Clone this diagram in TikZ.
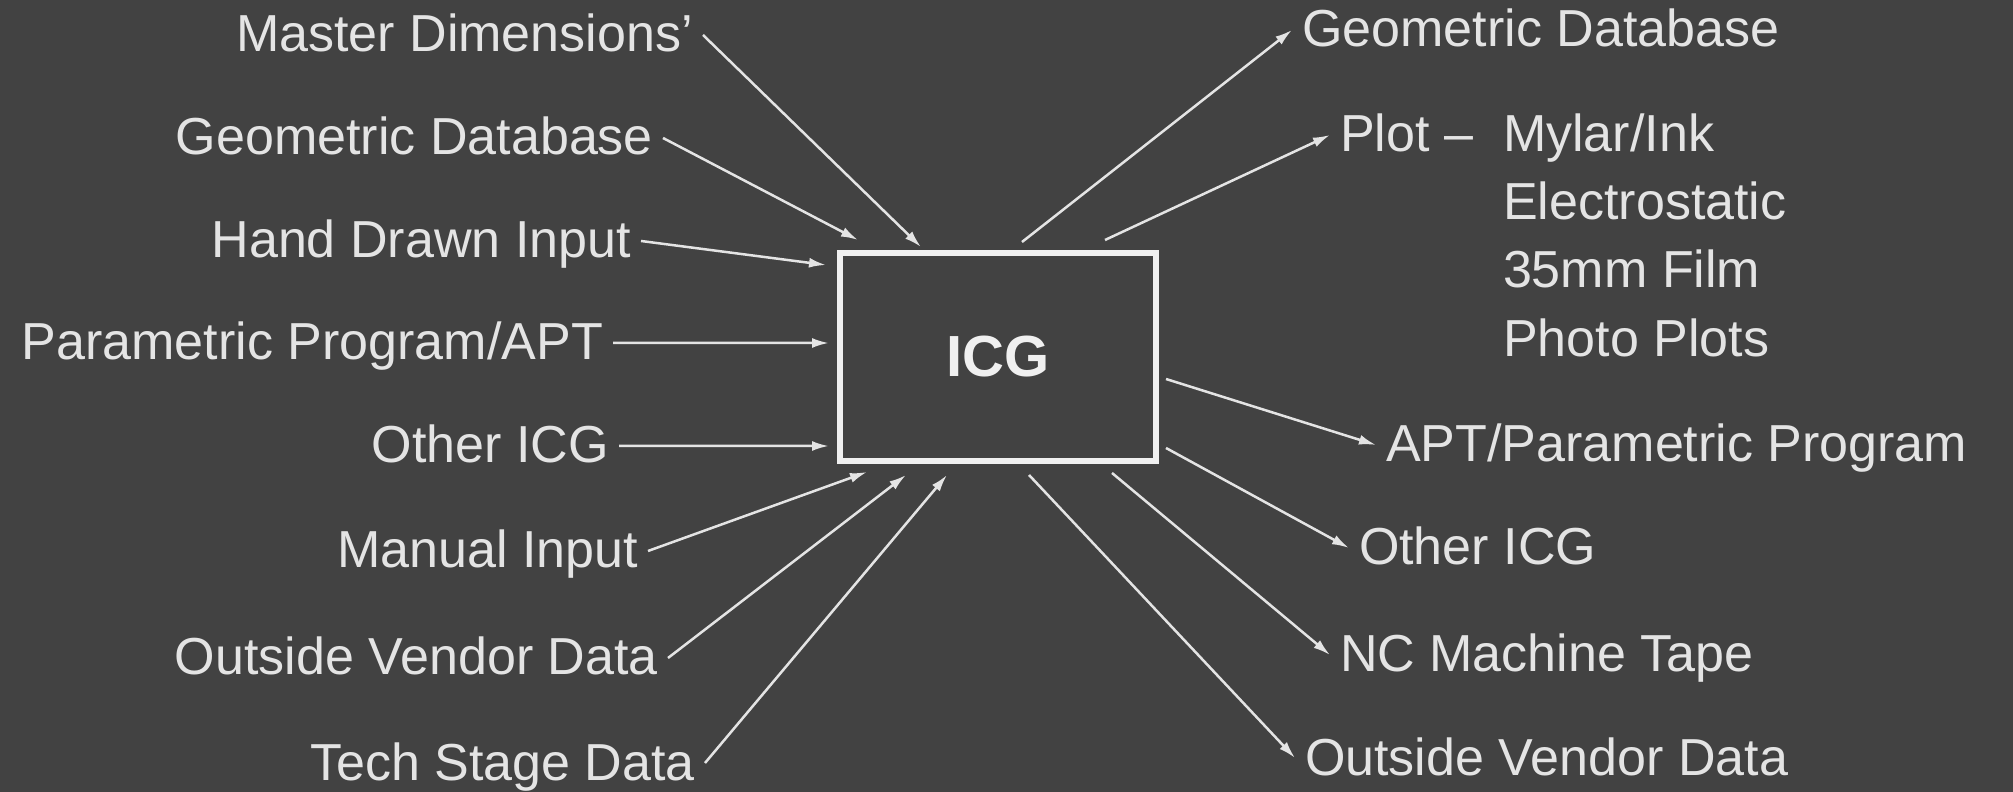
\documentclass[tikz,border=0pt]{standalone}
\usepackage{fontspec}
\setsansfont[Ligatures=TeX]{Liberation Sans}
\usepackage{tikz}
\usetikzlibrary{arrows.meta,positioning}
\definecolor{icgbg}{RGB}{66,66,66}
\definecolor{icgink}{RGB}{228,228,228}
\definecolor{icgedge}{RGB}{240,240,240}
\tikzset{
  lbl/.style={
    text=icgink, font=\sffamily\fontsize{14.8pt}{17pt}\selectfont,
    inner sep=0pt, outer sep=0.1cm, text height=0.37cm, text depth=0.03cm
  },
  inlbl/.style={lbl, anchor=base east},
  outlbl/.style={lbl, anchor=base west},
  hub/.style={
    draw=icgedge, line width=0.06cm, minimum width=3.15cm, minimum height=2.07cm,
    text=icgedge, font=\sffamily\bfseries\fontsize{16.5pt}{19pt}\selectfont
  },
  arr/.style={-{Latex[length=0.17cm,width=0.1cm]}, draw=icgink, line width=0.025cm}
}
\begin{document}
\begin{tikzpicture}[x=0.01cm, y=-0.01cm]
  \useasboundingbox (0,0) rectangle (2013,792);
  \fill[icgbg] (0,0) rectangle (2013,792);
  \node[hub] (icg) at (998,357) {ICG};
  % inputs
  \node[inlbl] (mast) at (703,52) {Master Dimensions'};
  \node[inlbl] (geoin) at (663,155) {Geometric Database};
  \node[inlbl] (hand) at (641,258) {Hand Drawn Input};
  \node[inlbl] (param) at (613,360) {Parametric Program/APT};
  \node[inlbl] (othin) at (619,463) {Other ICG};
  \node[inlbl] (manual) at (648,568) {Manual Input};
  \node[inlbl] (vendin) at (668,675) {Outside Vendor Data};
  \node[inlbl] (tech) at (705,780) {Tech Stage Data};
  % outputs
  \node[outlbl] (geoout) at (1292,47) {Geometric Database};
  \node[outlbl] (plot) at (1330,152) {Plot --};
  \node[outlbl] (mylar) at (1493,152) {Mylar/Ink};
  \node[outlbl] (elec) at (1493,220) {Electrostatic};
  \node[outlbl] (film) at (1493,288) {35mm Film};
  \node[outlbl] (photo) at (1493,357) {Photo Plots};
  \node[outlbl] (apt) at (1376,462) {APT/Parametric Program};
  \node[outlbl] (othout) at (1349,565) {Other ICG};
  \node[outlbl] (nc) at (1330,672) {NC Machine Tape};
  \node[outlbl] (vendout) at (1295,775) {Outside Vendor Data};
  % arrow ends at the box
  \coordinate (i1) at (921,247);
  \coordinate (i2) at (858,240);
  \coordinate (i3) at (826,265);
  \coordinate (i4) at (829,343);
  \coordinate (i5) at (829,446);
  \coordinate (i6) at (867,472);
  \coordinate (i7) at (906,475);
  \coordinate (i8) at (947,475);
  \coordinate (o1) at (1022,242);
  \coordinate (o2) at (1105,240);
  \coordinate (o3) at (1166,379);
  \coordinate (o4) at (1166,448);
  \coordinate (o5) at (1112,473);
  \coordinate (o6) at (1029,475);
  \foreach \p/\q in {mast/i1,geoin/i2,hand/i3,param/i4,othin/i5,manual/i6,vendin/i7,tech/i8}
    \draw[arr] (\p.east) -- (\q);
  \foreach \p/\q in {o1/geoout,o2/plot,o3/apt,o4/othout,o5/nc,o6/vendout}
    \draw[arr] (\p) -- (\q.west);
\end{tikzpicture}
\end{document}
